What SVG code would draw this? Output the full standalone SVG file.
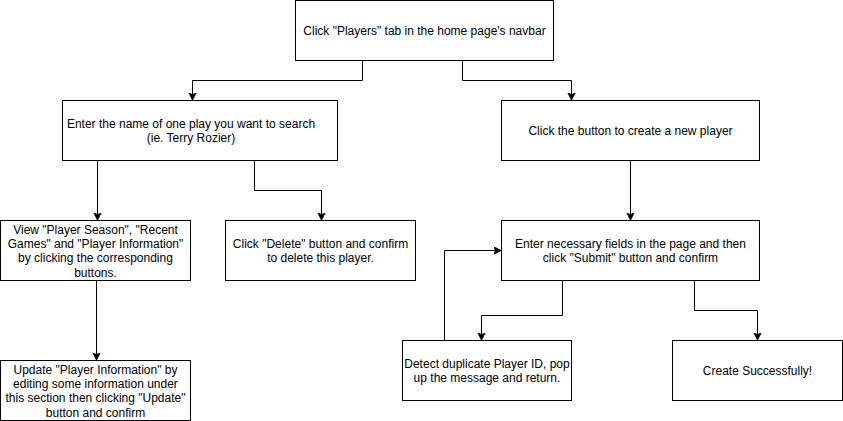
<svg xmlns="http://www.w3.org/2000/svg" width="843" height="421" viewBox="0 0 843 421">
<style>
.box{fill:#fff;stroke:#000;stroke-width:1}
.t{font-family:"Liberation Sans",Arial,sans-serif;font-size:12px;fill:#000;text-anchor:middle}
.c{fill:none;stroke:#000;stroke-width:1}
</style>
<defs>
<marker id="ar" markerUnits="userSpaceOnUse" markerWidth="10" markerHeight="10" refX="8" refY="4" orient="auto">
<path d="M0,0 L8,4 L0,8 L2,4 Z" fill="#000" stroke="#000" stroke-width="0.5"/>
</marker>
</defs>
<rect x="0" y="0" width="843" height="421" fill="#fff"/>
<g id="connectors">
<path class="c" d="M362.5 60.5 V80.5 H192.5 V100.5" marker-end="url(#ar)"/>
<path class="c" d="M462.5 60.5 V80.5 H571.5 V100.5" marker-end="url(#ar)"/>
<path class="c" d="M97.5 160.5 V220.5" marker-end="url(#ar)"/>
<path class="c" d="M254.5 160.5 V190.5 H321.5 V220.5" marker-end="url(#ar)"/>
<path class="c" d="M630.5 160.5 V220.5" marker-end="url(#ar)"/>
<path class="c" d="M96.5 280.5 V360.5" marker-end="url(#ar)"/>
<path class="c" d="M562.5 280.5 V315.5 H481.5 V340.5" marker-end="url(#ar)"/>
<path class="c" d="M694.5 280.5 V310.5 H757.5 V340.5" marker-end="url(#ar)"/>
<path class="c" d="M444.5 340.5 V250.5 H501.5" marker-end="url(#ar)"/>
</g>
<g id="n1">
<rect class="box" x="295.5" y="0.5" width="258" height="60"/>
<text class="t" x="424.5" y="34.5">Click "Players" tab in the home page's navbar</text>
</g>
<g id="n2">
<rect class="box" x="62.5" y="100.5" width="275" height="60"/>
<text class="t" x="191" y="128">Enter the name of one play you want to search</text>
<text class="t" x="191" y="142.4">(ie. Terry Rozier)</text>
</g>
<g id="n3">
<rect class="box" x="501.5" y="100.5" width="258" height="60"/>
<text class="t" x="630.5" y="134.5">Click the button to create a new player</text>
</g>
<g id="n4">
<rect class="box" x="0.5" y="220.5" width="190" height="60"/>
<text class="t" x="95.5" y="233.5">View "Player Season", "Recent</text>
<text class="t" x="95.5" y="247.9">Games" and "Player Information"</text>
<text class="t" x="95.5" y="262.3">by clicking the corresponding</text>
<text class="t" x="95.5" y="276.7">buttons.</text>
</g>
<g id="n5">
<rect class="box" x="225.5" y="220.5" width="190" height="60"/>
<text class="t" x="320.5" y="247.5">Click "Delete" button and confirm</text>
<text class="t" x="320.5" y="261.9">to delete this player.</text>
</g>
<g id="n6">
<rect class="box" x="501.5" y="220.5" width="258" height="60"/>
<text class="t" x="630.5" y="247.5">Enter necessary fields in the page and then</text>
<text class="t" x="630.5" y="261.9">click "Submit" button and confirm</text>
</g>
<g id="n7">
<rect class="box" x="0.5" y="360.5" width="190" height="60"/>
<text class="t" x="95.5" y="373.5">Update "Player Information" by</text>
<text class="t" x="95.5" y="387.9">editing some information under</text>
<text class="t" x="95.5" y="402.3">this section then clicking "Update"</text>
<text class="t" x="95.5" y="416.7">button and confirm</text>
</g>
<g id="n8">
<rect class="box" x="402.5" y="340.5" width="169" height="60"/>
<text class="t" x="487" y="367.5">Detect duplicate Player ID, pop</text>
<text class="t" x="487" y="381.9">up the message and return.</text>
</g>
<g id="n9">
<rect class="box" x="672.5" y="340.5" width="170" height="60"/>
<text class="t" x="757.5" y="374.5">Create Successfully!</text>
</g>
</svg>
